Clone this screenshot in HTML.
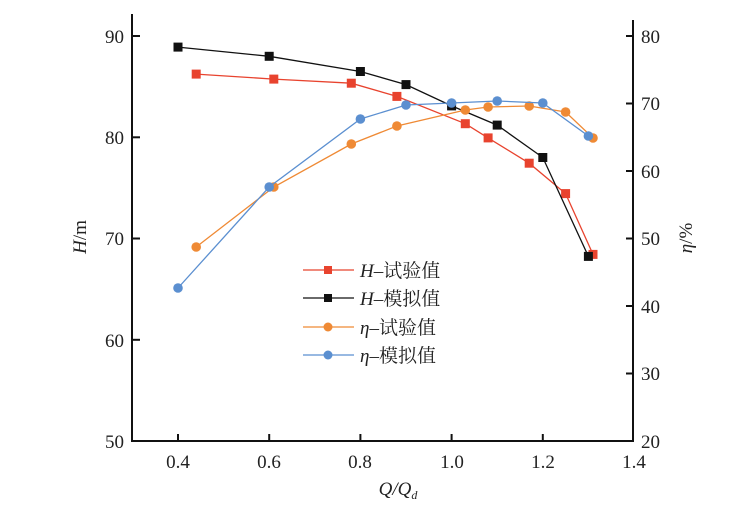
<!DOCTYPE html>
<html><head><meta charset="utf-8"><style>
html,body{margin:0;padding:0;background:#fff;}
text{font-family:"Liberation Serif","Noto Serif CJK SC",serif;fill:#222;}
</style></head><body>
<svg width="736" height="508" viewBox="0 0 736 508" xmlns="http://www.w3.org/2000/svg">
<g stroke="#111" stroke-width="2" fill="none">
<path d="M132,14 V441 H633 V20"/>
</g>
<g stroke="#111" stroke-width="2">
<line x1="178" y1="441" x2="178" y2="434"/>
<line x1="269.2" y1="441" x2="269.2" y2="434"/>
<line x1="360.4" y1="441" x2="360.4" y2="434"/>
<line x1="451.6" y1="441" x2="451.6" y2="434"/>
<line x1="542.8" y1="441" x2="542.8" y2="434"/>
<line x1="132" y1="36" x2="140" y2="36"/>
<line x1="132" y1="137.3" x2="140" y2="137.3"/>
<line x1="132" y1="238.5" x2="140" y2="238.5"/>
<line x1="132" y1="339.8" x2="140" y2="339.8"/>
<line x1="633" y1="36" x2="626" y2="36"/>
<line x1="633" y1="103.5" x2="626" y2="103.5"/>
<line x1="633" y1="171" x2="626" y2="171"/>
<line x1="633" y1="238.5" x2="626" y2="238.5"/>
<line x1="633" y1="306" x2="626" y2="306"/>
<line x1="633" y1="373.5" x2="626" y2="373.5"/>
</g>
<g font-size="19" text-anchor="end">
<text x="124" y="43">90</text><text x="124" y="144">80</text><text x="124" y="245">70</text><text x="124" y="347">60</text><text x="124" y="448">50</text>
</g>
<g font-size="19" text-anchor="start">
<text x="641" y="43">80</text><text x="641" y="110">70</text><text x="641" y="178">60</text><text x="641" y="245">50</text><text x="641" y="313">40</text><text x="641" y="380">30</text><text x="641" y="448">20</text>
</g>
<g font-size="19" text-anchor="middle">
<text x="178" y="468">0.4</text><text x="269" y="468">0.6</text><text x="360" y="468">0.8</text><text x="452" y="468">1.0</text><text x="543" y="468">1.2</text><text x="634" y="468">1.4</text>
</g>
<text x="398" y="495" font-size="19" text-anchor="middle" font-style="italic">Q/Q<tspan font-size="12" dy="4">d</tspan></text>
<text transform="translate(86,237) rotate(-90)" font-size="19" text-anchor="middle"><tspan font-style="italic">H</tspan>/m</text>
<text transform="translate(692,238) rotate(-90)" font-size="19" text-anchor="middle"><tspan font-style="italic">η</tspan>/%</text>

<!-- H test -->
<polyline fill="none" stroke="#e8432e" stroke-width="1.3" points="196.2,74.1 273.8,79.1 351.3,83.2 396.9,96.4 465.3,123.7 488.1,137.9 529.2,163.2 565.6,193.6 593,254.4"/>
<g fill="#e8432e">
<rect x="191.7" y="69.6" width="9" height="9"/><rect x="269.3" y="74.6" width="9" height="9"/><rect x="346.8" y="78.7" width="9" height="9"/><rect x="392.4" y="91.9" width="9" height="9"/><rect x="460.8" y="119.2" width="9" height="9"/><rect x="483.6" y="133.4" width="9" height="9"/><rect x="524.7" y="158.7" width="9" height="9"/><rect x="561.1" y="189.1" width="9" height="9"/><rect x="588.5" y="249.9" width="9" height="9"/>
</g>
<!-- H sim -->
<polyline fill="none" stroke="#111" stroke-width="1.3" points="178,47.1 269.2,56.3 360.4,71.5 406,84.6 451.6,105.9 497.2,125.1 542.8,157.5 588.4,256.4"/>
<g fill="#111">
<rect x="173.5" y="42.6" width="9" height="9"/><rect x="264.7" y="51.8" width="9" height="9"/><rect x="355.9" y="67" width="9" height="9"/><rect x="401.5" y="80.1" width="9" height="9"/><rect x="447.1" y="101.4" width="9" height="9"/><rect x="492.7" y="120.6" width="9" height="9"/><rect x="538.3" y="153" width="9" height="9"/><rect x="583.9" y="251.9" width="9" height="9"/>
</g>
<!-- eta test -->
<polyline fill="none" stroke="#ef8a35" stroke-width="1.3" points="196.2,247 273.8,187 351.3,144 396.9,126 465.3,110 488.1,107 529.2,106 565.6,112 593,138"/>
<g fill="#ef8a35">
<circle cx="196.2" cy="247" r="4.8"/><circle cx="273.8" cy="187" r="4.8"/><circle cx="351.3" cy="144" r="4.8"/><circle cx="396.9" cy="126" r="4.8"/><circle cx="465.3" cy="110" r="4.8"/><circle cx="488.1" cy="107" r="4.8"/><circle cx="529.2" cy="106" r="4.8"/><circle cx="565.6" cy="112" r="4.8"/><circle cx="593" cy="138" r="4.8"/>
</g>
<!-- eta sim -->
<polyline fill="none" stroke="#5b8fd0" stroke-width="1.3" points="178,288 269.2,187 360.4,119 406,105 451.6,103 497.2,101 542.8,103 588.4,136"/>
<g fill="#5b8fd0">
<circle cx="178" cy="288" r="4.8"/><circle cx="269.2" cy="187" r="4.8"/><circle cx="360.4" cy="119" r="4.8"/><circle cx="406" cy="105" r="4.8"/><circle cx="451.6" cy="103" r="4.8"/><circle cx="497.2" cy="101" r="4.8"/><circle cx="542.8" cy="103" r="4.8"/><circle cx="588.4" cy="136" r="4.8"/>
</g>

<!-- legend -->
<g stroke-width="1.3">
<line x1="303" y1="270" x2="354" y2="270" stroke="#e8432e"/><rect x="324" y="266" width="8" height="8" fill="#e8432e"/>
<line x1="303" y1="298" x2="354" y2="298" stroke="#111"/><rect x="324" y="294" width="8" height="8" fill="#111"/>
<line x1="303" y1="327" x2="354" y2="327" stroke="#ef8a35"/><circle cx="328" cy="327" r="4.5" fill="#ef8a35"/>
<line x1="303" y1="355" x2="354" y2="355" stroke="#5b8fd0"/><circle cx="328" cy="355" r="4.5" fill="#5b8fd0"/>
</g>
<g font-size="19">
<text x="360" y="277"><tspan font-style="italic">H</tspan>–试验值</text>
<text x="360" y="305"><tspan font-style="italic">H</tspan>–模拟值</text>
<text x="360" y="334"><tspan font-style="italic">η</tspan>–试验值</text>
<text x="360" y="362"><tspan font-style="italic">η</tspan>–模拟值</text>
</g>
</svg>
</body></html>
